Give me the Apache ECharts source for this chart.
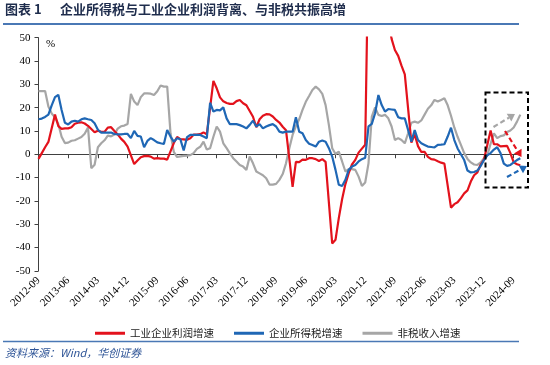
<!DOCTYPE html>
<html><head><meta charset="utf-8">
<script src="https://cdn.jsdelivr.net/npm/echarts@6/dist/echarts.min.js"></script>
<style>html,body{margin:0;padding:0;background:#fff}#c{width:550px;height:365px}</style>
</head><body><div id="c"></div>
<script>
// ---- data ----
const categories = (function(){ const a=[]; let y=2012,m=9; for(let i=0;i<147;i++){ a.push(y+'-'+(m<10?'0'+m:m)); m++; if(m>12){m=1;y++;} } return a; })();
const seriesNames = ['工业企业利润增速','企业所得税增速','非税收入增速'];
const profit = [-2.0,0.5,3.0,5.3,
 null,17.0,12.1,10.9,11.1,11.1,11.6,13.1,13.5,13.7,13.2,12.2,
 null,9.4,10.1,9.6,9.6,11.4,11.6,10.0,8.5,6.7,5.3,3.3,
 null,-4.2,-2.7,-1.3,-0.8,-0.7,-1.0,-1.9,-1.7,-1.9,-1.9,-2.3,
 null,4.8,7.4,6.5,6.4,6.2,6.9,8.4,8.4,8.6,9.4,8.5,
 null,31.5,28.3,24.4,22.7,22.0,21.6,21.6,22.8,23.3,21.9,21.0,
 null,16.1,11.6,15.0,16.5,17.2,17.1,16.2,14.7,13.6,11.8,10.3,
 null,-14.0,-3.3,-3.4,-2.3,-2.4,-1.7,-1.7,-2.1,-2.9,-2.1,-3.3,
 null,-38.3,-36.7,-27.4,-19.3,-12.8,-8.1,-4.4,-2.4,0.7,2.4,4.1,
 null,178.9,137.3,106.0,83.4,66.9,57.3,49.5,44.7,42.2,38.0,34.3,
 null,5.0,8.5,3.5,1.0,1.0,-1.1,-2.1,-2.3,-3.0,-3.6,-4.0,
 null,-22.9,-21.4,-20.6,-18.8,-16.8,-15.5,-11.7,-9.0,-7.8,-4.4,-2.3,
 null,10.2,4.3,4.3,3.4,3.5,3.6,0.5,-3.5,-4.3,-4.7];
const cit = [15.0,15.3,16.0,17.0,21.0,24.5,25.5,19.0,13.5,12.8,
 14.0,14.4,14.0,15.0,15.4,15.0,14.7,13.3,10.5,9.3,
 9.3,9.3,9.3,8.7,8.5,8.5,8.7,8.7,6.9,10.0,
 7.9,7.6,3.0,5.7,6.9,6.1,5.1,4.7,4.4,10.4,
 7.6,5.4,6.9,6.4,1.6,7.3,8.3,8.3,8.3,8.3,
 7.6,6.9,22.1,18.3,19.0,18.8,20.1,15.4,12.9,12.9,
 12.9,12.5,11.9,11.1,12.6,14.4,11.9,12.9,11.1,11.9,
 12.5,12.9,11.9,9.7,9.3,9.7,9.7,9.7,15.9,9.7,
 9.0,6.1,4.5,4.0,3.3,5.4,5.9,5.4,2.6,-1.0,
 -6.7,-13.1,-13.6,-11.0,-6.7,-5.3,-4.6,-3.1,-2.1,-1.5,
 12.0,13.0,17.6,25.4,21.1,18.3,19.4,19.2,19.0,15.9,
 15.4,15.4,10.4,5.4,10.4,6.1,4.7,4.0,3.3,3.1,
 2.9,4.0,4.1,4.3,7.6,11.4,6.1,2.5,0.0,-2.5,
 -7.0,-7.8,-7.6,-7.0,-5.0,-2.5,-0.5,0.5,2.0,3.0,
 0.5,-4.0,-5.0,-4.6,-3.5,-2.5,-1.7];
const nontax = [27.1,27.1,27.1,20.5,17.5,15.8,13.0,7.5,4.8,5.0,
 5.8,6.0,6.7,7.4,8.8,11.5,-6.0,-4.5,3.0,4.7,
 6.0,8.0,7.7,8.5,11.0,12.0,12.3,13.0,25.9,22.6,
 21.1,24.5,26.1,26.1,26.0,25.4,27.0,29.5,29.0,29.0,
 9.0,1.0,-1.2,-0.9,-0.7,-0.6,-0.4,0.5,2.3,3.2,
 5.4,2.0,2.6,7.5,11.9,9.7,4.7,2.6,0.4,-1.7,
 -3.1,-4.6,-5.3,-6.7,-1.0,-3.9,-7.4,-8.2,-9.0,-10.3,
 -13.0,-13.0,-12.7,-11.0,-8.5,-3.9,2.6,8.3,12.0,15.0,
 19.0,22.5,25.0,27.6,29.0,27.8,25.9,21.1,12.5,2.6,
 0.1,1.1,-3.1,-7.4,-6.4,-6.4,-6.7,-9.6,-13.6,-12.1,
 -3.9,16.1,20.1,16.9,16.4,16.9,15.4,11.9,6.1,6.9,
 6.1,4.7,9.0,13.5,14.0,13.5,14.5,17.0,19.5,21.0,
 23.3,22.6,23.3,24.0,21.0,16.5,11.5,7.5,4.0,0.5,
 -2.0,-3.5,-4.4,-4.6,-3.5,-1.7,-0.5,4.5,9.0,6.9,
 7.8,8.1,9.5,10.2,11.5,14.0,17.0];
const yMin = -50, yMax = 50, yStep = 10;
const colors = ['#E3121C','#1F67B5','#A6A6A6'];

// ---- chart ----
const chart = echarts.init(document.getElementById('c'), null, {renderer:'canvas'});
function arrow(p1,p2,color){
  const dx=p2[0]-p1[0], dy=p2[1]-p1[1], L=Math.hypot(dx,dy), ux=dx/L, uy=dy/L;
  const hl=7, hw=4.5;
  const b=[p2[0]-ux*hl, p2[1]-uy*hl];
  return [
    {type:'line', z:100, shape:{x1:p1[0],y1:p1[1],x2:b[0],y2:b[1]}, style:{stroke:color,lineWidth:2.2,lineDash:[5,3]}},
    {type:'polygon', z:100, shape:{points:[p2,[b[0]-uy*hw,b[1]+ux*hw],[b[0]+uy*hw,b[1]-ux*hw]]}, style:{fill:color}}
  ];
}
const serif = 'Liberation Serif, Times New Roman, serif';
const cjk = 'Noto Sans CJK SC';
const graphics = [
  {type:'text', left:5, top:3, style:{text:'图表 1', fontSize:13, fontWeight:'bold', fontFamily:cjk, fill:'#1f2d4d'}},
  {type:'text', left:60, top:3, style:{text:'企业所得税与工业企业利润背离、与非税共振高增', fontSize:13, fontWeight:'bold', fontFamily:cjk, fill:'#1f2d4d'}},
  {type:'line', shape:{x1:3,y1:24,x2:519,y2:24}, style:{stroke:'#4A78B5',lineWidth:2}},
  {type:'line', shape:{x1:3,y1:341.5,x2:519,y2:341.5}, style:{stroke:'#4A78B5',lineWidth:1.5}},
  {type:'text', left:5, top:347, style:{text:'资料来源：Wind，华创证券', fontSize:11, fontStyle:'italic', fontFamily:cjk, fill:'#2F5597'}},
  {type:'text', left:46, top:39, style:{text:'%', fontSize:11, fontFamily:serif, fill:'#000'}},
  {type:'rect', z:100, shape:{x:485.5,y:92.5,width:42.5,height:95}, style:{fill:'none',stroke:'#000',lineWidth:2,lineDash:[5,3]}}
].concat(arrow([493.5,127],[515,114],'#A6A6A6'))
 .concat(arrow([505,131],[521.5,157],'#E3121C'))
 .concat(arrow([507,177],[527,166],'#1F67B5'));

const option = {
  animation:false,
  backgroundColor:'#fff',
  color: colors,
  grid:{left:38.5, top:37.7, width:481.8, height:233.1, containLabel:false},
  legend:{
    data: seriesNames, left:90, top:323, icon:'rect', itemWidth:30, itemHeight:3, itemGap:20,
    textStyle:{fontSize:10.5, fontFamily:cjk, color:'#222'}
  },
  xAxis:[
    {type:'category', data:categories, boundaryGap:false, position:'bottom',
     axisLine:{show:false, onZero:false}, axisTick:{show:false},
     axisLabel:{interval:8, rotate:45, margin:8, fontSize:11, fontFamily:serif, color:'#000'},
     splitLine:{show:false}},
    {type:'category', data:categories, boundaryGap:false, position:'bottom',
     axisLine:{show:true, onZero:true, lineStyle:{color:'#404040', width:1}},
     axisTick:{show:true, interval:8, length:4, lineStyle:{color:'#404040'}},
     axisLabel:{show:false}, splitLine:{show:false}}
  ],
  yAxis:{type:'value', min:yMin, max:yMax, interval:yStep,
    axisLine:{show:true, lineStyle:{color:'#404040'}},
    axisTick:{show:true, length:4, lineStyle:{color:'#404040'}},
    axisLabel:{fontSize:11, fontFamily:serif, color:'#000', margin:8},
    splitLine:{show:false}},
  series:[
    {name:seriesNames[0], type:'line', data:profit, xAxisIndex:0, symbol:'none', connectNulls:true, lineStyle:{width:2.2}, z:3},
    {name:seriesNames[1], type:'line', data:cit, xAxisIndex:0, symbol:'none', connectNulls:true, lineStyle:{width:2.2}, z:4},
    {name:seriesNames[2], type:'line', data:nontax, xAxisIndex:0, symbol:'none', connectNulls:true, lineStyle:{width:2.2}, z:2}
  ],
  graphic: graphics
};
chart.setOption(option);
</script></body></html>
